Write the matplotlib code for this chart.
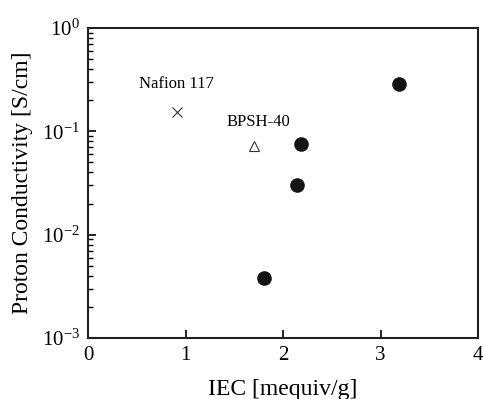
import matplotlib
matplotlib.use("Agg")
import matplotlib.pyplot as plt
import matplotlib.ticker as mticker

plt.rcParams['font.family'] = ['Liberation Serif', 'DejaVu Serif']
plt.rcParams['mathtext.fontset'] = 'custom'
plt.rcParams['mathtext.rm'] = 'Liberation Serif'
plt.rcParams['axes.unicode_minus'] = False

# sulfonated samples (filled circles)
iec = [1.81, 2.14, 2.18, 3.19]
conductivity = [0.0038, 0.030, 0.075, 0.285]

# reference membranes
nafion_iec = [0.91]
nafion_cond = [0.154]
bpsh_iec = [1.70]
bpsh_cond = [0.072]

fig = plt.figure(figsize=(4.83, 3.99), dpi=100)
ax = fig.add_axes([88 / 483, 1 - 338 / 399, 390 / 483, 310 / 399])

ax.plot(iec, conductivity, 'o', color='#141414', markersize=9.5, linestyle='none')
ax.plot(nafion_iec, nafion_cond, 'x', color='#333333', markersize=7,
        markeredgewidth=0.8, linestyle='none')
ax.plot(bpsh_iec, bpsh_cond, '^', markerfacecolor='white', markeredgecolor='#333333',
        markersize=7, markeredgewidth=0.8, linestyle='none')

ax.text(nafion_iec[0], nafion_cond[0] * 1.55, 'Nafion 117', ha='center', va='bottom',
        fontsize=12)
ax.text(bpsh_iec[0] + 0.05, bpsh_cond[0] * 1.42, 'BPSH-40', ha='center', va='bottom',
        fontsize=12)

ax.set_yscale('log')
ax.set_xlim(0, 4)
ax.set_ylim(1e-3, 1)
ax.set_xticks([0, 1, 2, 3, 4])
ax.xaxis.set_major_formatter(mticker.FormatStrFormatter('%d'))
ax.yaxis.set_minor_locator(mticker.LogLocator(base=10, subs=range(2, 10)))
ax.yaxis.set_minor_formatter(mticker.NullFormatter())

ax.tick_params(axis='both', which='major', direction='in', length=6, width=1.2,
               labelsize=15, pad=6, top=False, right=False)
ax.tick_params(axis='y', which='minor', direction='in', length=3.5, width=1.0, right=False)
for s in ax.spines.values():
    s.set_linewidth(1.5)
    s.set_color('#222222')

ax.set_xlabel('IEC [mequiv/g]', fontsize=17, labelpad=10)
ax.set_ylabel('Proton Conductivity [S/cm]', fontsize=17, labelpad=6)

fig.savefig('out.png', dpi=100)
